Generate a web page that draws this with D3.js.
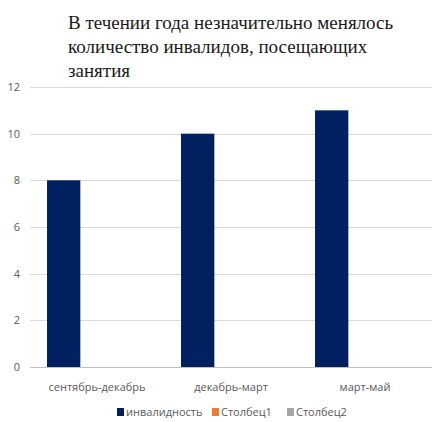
<!DOCTYPE html>
<html>
<head>
<meta charset="utf-8">
<script src="https://cdn.jsdelivr.net/npm/d3@7"></script>
<style>
  body { margin: 0; background: #fff; }
  #chart { position: relative; width: 437px; height: 422px; }
  #title { position: absolute; left: 68px; top: 11px; margin: 0;
           font-family: 'Liberation Serif', 'Times New Roman', serif;
           font-size: 19px; line-height: 24px; color: #1a1a1a; white-space: nowrap; }
  .lbl { font-family: 'Open Sans', sans-serif; fill: #595959; }
</style>
</head>
<body>
<div id="chart"></div>
<script>
// data
var categories = ["сентябрь-декабрь", "декабрь-март", "март-май"];
var seriesNames = ["инвалидность", "Столбец1", "Столбец2"];
var invalidnost = [8, 10, 11];
var stolbec1 = [0, 0, 0];
var stolbec2 = [0, 0, 0];
var yTicks = [0, 2, 4, 6, 8, 10, 12];
var titleLines = ["В течении года незначительно менялось", "количество инвалидов, посещающих", "занятия"];

var colors = ["#002060", "#ED7D31", "#A5A5A5"];

var W = 437, H = 422;
var margin = {top: 87, right: 5, bottom: 55, left: 30};

var svg = d3.select("#chart")
  .append("svg")
  .attr("width", W)
  .attr("height", H);

// title (html so the serif face is used)
d3.select("#chart").append("div")
  .attr("id", "title")
  .selectAll("div")
  .data(titleLines)
  .enter().append("div")
    .text(function(d) { return d; });

var x0 = d3.scaleBand()
  .domain(categories)
  .range([margin.left, W - margin.right])
  .paddingInner(0.254)
  .paddingOuter(0.127);

var x1 = d3.scaleBand()
  .domain(seriesNames)
  .range([0, x0.bandwidth()]);

var y = d3.scaleLinear()
  .domain([0, 12])
  .range([H - margin.bottom, margin.top]);

// gridlines
svg.append("g")
  .selectAll("line")
  .data(yTicks)
  .enter().append("line")
    .attr("x1", margin.left)
    .attr("x2", W - margin.right)
    .attr("y1", function(d) { return Math.round(y(d)) + 0.5; })
    .attr("y2", function(d) { return Math.round(y(d)) + 0.5; })
    .style("stroke", function(d) { return d == 0 ? "#bfbfbf" : "#d9d9d9"; })
    .style("stroke-width", 1);

// y labels
svg.append("g")
  .selectAll("text")
  .data(yTicks)
  .enter().append("text")
    .attr("class", "lbl")
    .attr("x", 20)
    .attr("y", function(d) { return y(d) + 4; })
    .attr("text-anchor", "end")
    .style("font-size", "11px")
    .text(function(d) { return d; });

// bars
var seriesData = [invalidnost, stolbec1, stolbec2];
seriesData.forEach(function(vals, s) {
  svg.append("g")
    .selectAll("rect")
    .data(vals)
    .enter().append("rect")
      .attr("x", function(d, i) { return x0(categories[i]) + x1(seriesNames[s]); })
      .attr("y", function(d) { return y(d); })
      .attr("width", x1.bandwidth())
      .attr("height", function(d) { return y(0) - y(d); })
      .style("fill", colors[s]);
});

// category labels
svg.append("g")
  .selectAll("text")
  .data(categories)
  .enter().append("text")
    .attr("class", "lbl")
    .attr("x", function(d) { return x0(d) + x0.bandwidth() / 2; })
    .attr("y", 391)
    .attr("text-anchor", "middle")
    .style("font-size", "11px")
    .text(function(d) { return d; });

// legend
var legendX = [117, 212, 287];
var legend = svg.append("g")
  .selectAll("g")
  .data(seriesNames)
  .enter().append("g")
    .attr("transform", function(d, i) { return "translate(" + legendX[i] + ",0)"; });

legend.append("rect")
  .attr("x", 0)
  .attr("y", 408)
  .attr("width", 7)
  .attr("height", 8)
  .style("fill", function(d, i) { return colors[i]; });

legend.append("text")
  .attr("class", "lbl")
  .attr("x", 9)
  .attr("y", 416)
  .style("font-size", "11px")
  .text(function(d) { return d; });
</script>
</body>
</html>
